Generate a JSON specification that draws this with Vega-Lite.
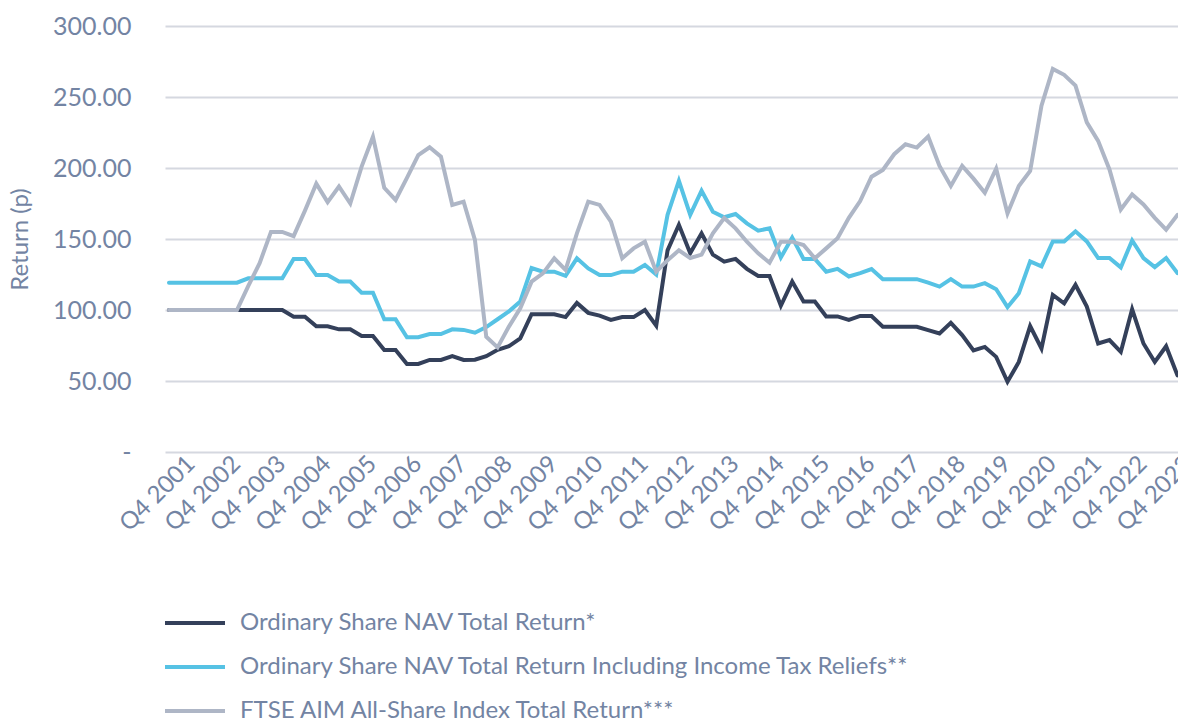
{
"$schema": "https://vega.github.io/schema/vega-lite/v6.json",
"width": 1013, "height": 426,
"autosize": {"type": "none"},
"padding": {"left": 165, "top": 26, "right": 0, "bottom": 270},
"background": "white",
"config": {"view": {"stroke": null}, "font": "Lato"},
"data": {"values": [
{"q":"Q4 2001","s":"Ordinary Share NAV Total Return*","v":100},
{"q":"Q1 2002","s":"Ordinary Share NAV Total Return*","v":100},
{"q":"Q2 2002","s":"Ordinary Share NAV Total Return*","v":100},
{"q":"Q3 2002","s":"Ordinary Share NAV Total Return*","v":100},
{"q":"Q4 2002","s":"Ordinary Share NAV Total Return*","v":100},
{"q":"Q1 2003","s":"Ordinary Share NAV Total Return*","v":100},
{"q":"Q2 2003","s":"Ordinary Share NAV Total Return*","v":100},
{"q":"Q3 2003","s":"Ordinary Share NAV Total Return*","v":100},
{"q":"Q4 2003","s":"Ordinary Share NAV Total Return*","v":100},
{"q":"Q1 2004","s":"Ordinary Share NAV Total Return*","v":100},
{"q":"Q2 2004","s":"Ordinary Share NAV Total Return*","v":100},
{"q":"Q3 2004","s":"Ordinary Share NAV Total Return*","v":95.3},
{"q":"Q4 2004","s":"Ordinary Share NAV Total Return*","v":95.3},
{"q":"Q1 2005","s":"Ordinary Share NAV Total Return*","v":88.5},
{"q":"Q2 2005","s":"Ordinary Share NAV Total Return*","v":88.5},
{"q":"Q3 2005","s":"Ordinary Share NAV Total Return*","v":86.4},
{"q":"Q4 2005","s":"Ordinary Share NAV Total Return*","v":86.4},
{"q":"Q1 2006","s":"Ordinary Share NAV Total Return*","v":81.7},
{"q":"Q2 2006","s":"Ordinary Share NAV Total Return*","v":81.7},
{"q":"Q3 2006","s":"Ordinary Share NAV Total Return*","v":71.8},
{"q":"Q4 2006","s":"Ordinary Share NAV Total Return*","v":71.8},
{"q":"Q1 2007","s":"Ordinary Share NAV Total Return*","v":62},
{"q":"Q2 2007","s":"Ordinary Share NAV Total Return*","v":62},
{"q":"Q3 2007","s":"Ordinary Share NAV Total Return*","v":64.8},
{"q":"Q4 2007","s":"Ordinary Share NAV Total Return*","v":64.8},
{"q":"Q1 2008","s":"Ordinary Share NAV Total Return*","v":67.6},
{"q":"Q2 2008","s":"Ordinary Share NAV Total Return*","v":64.8},
{"q":"Q3 2008","s":"Ordinary Share NAV Total Return*","v":65},
{"q":"Q4 2008","s":"Ordinary Share NAV Total Return*","v":67.5},
{"q":"Q1 2009","s":"Ordinary Share NAV Total Return*","v":72},
{"q":"Q2 2009","s":"Ordinary Share NAV Total Return*","v":74.5},
{"q":"Q3 2009","s":"Ordinary Share NAV Total Return*","v":80},
{"q":"Q4 2009","s":"Ordinary Share NAV Total Return*","v":97},
{"q":"Q1 2010","s":"Ordinary Share NAV Total Return*","v":97},
{"q":"Q2 2010","s":"Ordinary Share NAV Total Return*","v":97},
{"q":"Q3 2010","s":"Ordinary Share NAV Total Return*","v":95},
{"q":"Q4 2010","s":"Ordinary Share NAV Total Return*","v":105},
{"q":"Q1 2011","s":"Ordinary Share NAV Total Return*","v":98},
{"q":"Q2 2011","s":"Ordinary Share NAV Total Return*","v":96},
{"q":"Q3 2011","s":"Ordinary Share NAV Total Return*","v":93},
{"q":"Q4 2011","s":"Ordinary Share NAV Total Return*","v":95},
{"q":"Q1 2012","s":"Ordinary Share NAV Total Return*","v":95},
{"q":"Q2 2012","s":"Ordinary Share NAV Total Return*","v":100},
{"q":"Q3 2012","s":"Ordinary Share NAV Total Return*","v":89},
{"q":"Q4 2012","s":"Ordinary Share NAV Total Return*","v":142},
{"q":"Q1 2013","s":"Ordinary Share NAV Total Return*","v":160},
{"q":"Q2 2013","s":"Ordinary Share NAV Total Return*","v":140},
{"q":"Q3 2013","s":"Ordinary Share NAV Total Return*","v":154},
{"q":"Q4 2013","s":"Ordinary Share NAV Total Return*","v":139},
{"q":"Q1 2014","s":"Ordinary Share NAV Total Return*","v":134},
{"q":"Q2 2014","s":"Ordinary Share NAV Total Return*","v":136},
{"q":"Q3 2014","s":"Ordinary Share NAV Total Return*","v":129},
{"q":"Q4 2014","s":"Ordinary Share NAV Total Return*","v":124},
{"q":"Q1 2015","s":"Ordinary Share NAV Total Return*","v":124},
{"q":"Q2 2015","s":"Ordinary Share NAV Total Return*","v":103},
{"q":"Q3 2015","s":"Ordinary Share NAV Total Return*","v":120},
{"q":"Q4 2015","s":"Ordinary Share NAV Total Return*","v":106},
{"q":"Q1 2016","s":"Ordinary Share NAV Total Return*","v":106},
{"q":"Q2 2016","s":"Ordinary Share NAV Total Return*","v":95.5},
{"q":"Q3 2016","s":"Ordinary Share NAV Total Return*","v":95.5},
{"q":"Q4 2016","s":"Ordinary Share NAV Total Return*","v":93},
{"q":"Q1 2017","s":"Ordinary Share NAV Total Return*","v":95.8},
{"q":"Q2 2017","s":"Ordinary Share NAV Total Return*","v":95.8},
{"q":"Q3 2017","s":"Ordinary Share NAV Total Return*","v":88.2},
{"q":"Q4 2017","s":"Ordinary Share NAV Total Return*","v":88.2},
{"q":"Q1 2018","s":"Ordinary Share NAV Total Return*","v":88.2},
{"q":"Q2 2018","s":"Ordinary Share NAV Total Return*","v":88.2},
{"q":"Q3 2018","s":"Ordinary Share NAV Total Return*","v":85.8},
{"q":"Q4 2018","s":"Ordinary Share NAV Total Return*","v":83.5},
{"q":"Q1 2019","s":"Ordinary Share NAV Total Return*","v":91},
{"q":"Q2 2019","s":"Ordinary Share NAV Total Return*","v":82.3},
{"q":"Q3 2019","s":"Ordinary Share NAV Total Return*","v":71.5},
{"q":"Q4 2019","s":"Ordinary Share NAV Total Return*","v":74},
{"q":"Q1 2020","s":"Ordinary Share NAV Total Return*","v":67},
{"q":"Q2 2020","s":"Ordinary Share NAV Total Return*","v":49.5},
{"q":"Q3 2020","s":"Ordinary Share NAV Total Return*","v":63.4},
{"q":"Q4 2020","s":"Ordinary Share NAV Total Return*","v":88.7},
{"q":"Q1 2021","s":"Ordinary Share NAV Total Return*","v":72.9},
{"q":"Q2 2021","s":"Ordinary Share NAV Total Return*","v":110.6},
{"q":"Q3 2021","s":"Ordinary Share NAV Total Return*","v":104.7},
{"q":"Q4 2021","s":"Ordinary Share NAV Total Return*","v":117.7},
{"q":"Q1 2022","s":"Ordinary Share NAV Total Return*","v":102.4},
{"q":"Q2 2022","s":"Ordinary Share NAV Total Return*","v":76.4},
{"q":"Q3 2022","s":"Ordinary Share NAV Total Return*","v":78.8},
{"q":"Q4 2022","s":"Ordinary Share NAV Total Return*","v":70.5},
{"q":"Q1 2023","s":"Ordinary Share NAV Total Return*","v":100.5},
{"q":"Q2 2023","s":"Ordinary Share NAV Total Return*","v":76.4},
{"q":"Q3 2023","s":"Ordinary Share NAV Total Return*","v":63.4},
{"q":"Q4 2023","s":"Ordinary Share NAV Total Return*","v":74.5},
{"q":"Q1 2024","s":"Ordinary Share NAV Total Return*","v":54},
{"q":"Q4 2001","s":"Ordinary Share NAV Total Return Including Income Tax Reliefs**","v":119.2},
{"q":"Q1 2002","s":"Ordinary Share NAV Total Return Including Income Tax Reliefs**","v":119.2},
{"q":"Q2 2002","s":"Ordinary Share NAV Total Return Including Income Tax Reliefs**","v":119.2},
{"q":"Q3 2002","s":"Ordinary Share NAV Total Return Including Income Tax Reliefs**","v":119.2},
{"q":"Q4 2002","s":"Ordinary Share NAV Total Return Including Income Tax Reliefs**","v":119.2},
{"q":"Q1 2003","s":"Ordinary Share NAV Total Return Including Income Tax Reliefs**","v":119.2},
{"q":"Q2 2003","s":"Ordinary Share NAV Total Return Including Income Tax Reliefs**","v":119.2},
{"q":"Q3 2003","s":"Ordinary Share NAV Total Return Including Income Tax Reliefs**","v":122.3},
{"q":"Q4 2003","s":"Ordinary Share NAV Total Return Including Income Tax Reliefs**","v":122.3},
{"q":"Q1 2004","s":"Ordinary Share NAV Total Return Including Income Tax Reliefs**","v":122.3},
{"q":"Q2 2004","s":"Ordinary Share NAV Total Return Including Income Tax Reliefs**","v":122.3},
{"q":"Q3 2004","s":"Ordinary Share NAV Total Return Including Income Tax Reliefs**","v":135.9},
{"q":"Q4 2004","s":"Ordinary Share NAV Total Return Including Income Tax Reliefs**","v":135.9},
{"q":"Q1 2005","s":"Ordinary Share NAV Total Return Including Income Tax Reliefs**","v":124.6},
{"q":"Q2 2005","s":"Ordinary Share NAV Total Return Including Income Tax Reliefs**","v":124.6},
{"q":"Q3 2005","s":"Ordinary Share NAV Total Return Including Income Tax Reliefs**","v":120},
{"q":"Q4 2005","s":"Ordinary Share NAV Total Return Including Income Tax Reliefs**","v":120},
{"q":"Q1 2006","s":"Ordinary Share NAV Total Return Including Income Tax Reliefs**","v":112.2},
{"q":"Q2 2006","s":"Ordinary Share NAV Total Return Including Income Tax Reliefs**","v":112.2},
{"q":"Q3 2006","s":"Ordinary Share NAV Total Return Including Income Tax Reliefs**","v":93.4},
{"q":"Q4 2006","s":"Ordinary Share NAV Total Return Including Income Tax Reliefs**","v":93.4},
{"q":"Q1 2007","s":"Ordinary Share NAV Total Return Including Income Tax Reliefs**","v":80.8},
{"q":"Q2 2007","s":"Ordinary Share NAV Total Return Including Income Tax Reliefs**","v":80.8},
{"q":"Q3 2007","s":"Ordinary Share NAV Total Return Including Income Tax Reliefs**","v":83.1},
{"q":"Q4 2007","s":"Ordinary Share NAV Total Return Including Income Tax Reliefs**","v":83.1},
{"q":"Q1 2008","s":"Ordinary Share NAV Total Return Including Income Tax Reliefs**","v":86.4},
{"q":"Q2 2008","s":"Ordinary Share NAV Total Return Including Income Tax Reliefs**","v":86},
{"q":"Q3 2008","s":"Ordinary Share NAV Total Return Including Income Tax Reliefs**","v":84},
{"q":"Q4 2008","s":"Ordinary Share NAV Total Return Including Income Tax Reliefs**","v":88},
{"q":"Q1 2009","s":"Ordinary Share NAV Total Return Including Income Tax Reliefs**","v":93.5},
{"q":"Q2 2009","s":"Ordinary Share NAV Total Return Including Income Tax Reliefs**","v":99},
{"q":"Q3 2009","s":"Ordinary Share NAV Total Return Including Income Tax Reliefs**","v":106},
{"q":"Q4 2009","s":"Ordinary Share NAV Total Return Including Income Tax Reliefs**","v":129.5},
{"q":"Q1 2010","s":"Ordinary Share NAV Total Return Including Income Tax Reliefs**","v":127},
{"q":"Q2 2010","s":"Ordinary Share NAV Total Return Including Income Tax Reliefs**","v":127},
{"q":"Q3 2010","s":"Ordinary Share NAV Total Return Including Income Tax Reliefs**","v":124},
{"q":"Q4 2010","s":"Ordinary Share NAV Total Return Including Income Tax Reliefs**","v":136.4},
{"q":"Q1 2011","s":"Ordinary Share NAV Total Return Including Income Tax Reliefs**","v":129.3},
{"q":"Q2 2011","s":"Ordinary Share NAV Total Return Including Income Tax Reliefs**","v":124.6},
{"q":"Q3 2011","s":"Ordinary Share NAV Total Return Including Income Tax Reliefs**","v":124.6},
{"q":"Q4 2011","s":"Ordinary Share NAV Total Return Including Income Tax Reliefs**","v":127},
{"q":"Q1 2012","s":"Ordinary Share NAV Total Return Including Income Tax Reliefs**","v":127},
{"q":"Q2 2012","s":"Ordinary Share NAV Total Return Including Income Tax Reliefs**","v":131.7},
{"q":"Q3 2012","s":"Ordinary Share NAV Total Return Including Income Tax Reliefs**","v":125},
{"q":"Q4 2012","s":"Ordinary Share NAV Total Return Including Income Tax Reliefs**","v":167},
{"q":"Q1 2013","s":"Ordinary Share NAV Total Return Including Income Tax Reliefs**","v":191},
{"q":"Q2 2013","s":"Ordinary Share NAV Total Return Including Income Tax Reliefs**","v":167},
{"q":"Q3 2013","s":"Ordinary Share NAV Total Return Including Income Tax Reliefs**","v":184},
{"q":"Q4 2013","s":"Ordinary Share NAV Total Return Including Income Tax Reliefs**","v":169.2},
{"q":"Q1 2014","s":"Ordinary Share NAV Total Return Including Income Tax Reliefs**","v":165.3},
{"q":"Q2 2014","s":"Ordinary Share NAV Total Return Including Income Tax Reliefs**","v":167.6},
{"q":"Q3 2014","s":"Ordinary Share NAV Total Return Including Income Tax Reliefs**","v":161},
{"q":"Q4 2014","s":"Ordinary Share NAV Total Return Including Income Tax Reliefs**","v":155.9},
{"q":"Q1 2015","s":"Ordinary Share NAV Total Return Including Income Tax Reliefs**","v":157.5},
{"q":"Q2 2015","s":"Ordinary Share NAV Total Return Including Income Tax Reliefs**","v":137},
{"q":"Q3 2015","s":"Ordinary Share NAV Total Return Including Income Tax Reliefs**","v":151},
{"q":"Q4 2015","s":"Ordinary Share NAV Total Return Including Income Tax Reliefs**","v":136},
{"q":"Q1 2016","s":"Ordinary Share NAV Total Return Including Income Tax Reliefs**","v":136},
{"q":"Q2 2016","s":"Ordinary Share NAV Total Return Including Income Tax Reliefs**","v":127},
{"q":"Q3 2016","s":"Ordinary Share NAV Total Return Including Income Tax Reliefs**","v":129},
{"q":"Q4 2016","s":"Ordinary Share NAV Total Return Including Income Tax Reliefs**","v":123.6},
{"q":"Q1 2017","s":"Ordinary Share NAV Total Return Including Income Tax Reliefs**","v":125.9},
{"q":"Q2 2017","s":"Ordinary Share NAV Total Return Including Income Tax Reliefs**","v":128.8},
{"q":"Q3 2017","s":"Ordinary Share NAV Total Return Including Income Tax Reliefs**","v":121.7},
{"q":"Q4 2017","s":"Ordinary Share NAV Total Return Including Income Tax Reliefs**","v":121.7},
{"q":"Q1 2018","s":"Ordinary Share NAV Total Return Including Income Tax Reliefs**","v":121.7},
{"q":"Q2 2018","s":"Ordinary Share NAV Total Return Including Income Tax Reliefs**","v":121.7},
{"q":"Q3 2018","s":"Ordinary Share NAV Total Return Including Income Tax Reliefs**","v":119.3},
{"q":"Q4 2018","s":"Ordinary Share NAV Total Return Including Income Tax Reliefs**","v":116.5},
{"q":"Q1 2019","s":"Ordinary Share NAV Total Return Including Income Tax Reliefs**","v":121.7},
{"q":"Q2 2019","s":"Ordinary Share NAV Total Return Including Income Tax Reliefs**","v":116.5},
{"q":"Q3 2019","s":"Ordinary Share NAV Total Return Including Income Tax Reliefs**","v":116.5},
{"q":"Q4 2019","s":"Ordinary Share NAV Total Return Including Income Tax Reliefs**","v":118.9},
{"q":"Q1 2020","s":"Ordinary Share NAV Total Return Including Income Tax Reliefs**","v":114.6},
{"q":"Q2 2020","s":"Ordinary Share NAV Total Return Including Income Tax Reliefs**","v":102},
{"q":"Q3 2020","s":"Ordinary Share NAV Total Return Including Income Tax Reliefs**","v":111.8},
{"q":"Q4 2020","s":"Ordinary Share NAV Total Return Including Income Tax Reliefs**","v":134.2},
{"q":"Q1 2021","s":"Ordinary Share NAV Total Return Including Income Tax Reliefs**","v":130.7},
{"q":"Q2 2021","s":"Ordinary Share NAV Total Return Including Income Tax Reliefs**","v":148.3},
{"q":"Q3 2021","s":"Ordinary Share NAV Total Return Including Income Tax Reliefs**","v":148.3},
{"q":"Q4 2021","s":"Ordinary Share NAV Total Return Including Income Tax Reliefs**","v":155.4},
{"q":"Q1 2022","s":"Ordinary Share NAV Total Return Including Income Tax Reliefs**","v":148.3},
{"q":"Q2 2022","s":"Ordinary Share NAV Total Return Including Income Tax Reliefs**","v":136.6},
{"q":"Q3 2022","s":"Ordinary Share NAV Total Return Including Income Tax Reliefs**","v":136.6},
{"q":"Q4 2022","s":"Ordinary Share NAV Total Return Including Income Tax Reliefs**","v":130},
{"q":"Q1 2023","s":"Ordinary Share NAV Total Return Including Income Tax Reliefs**","v":149},
{"q":"Q2 2023","s":"Ordinary Share NAV Total Return Including Income Tax Reliefs**","v":136.6},
{"q":"Q3 2023","s":"Ordinary Share NAV Total Return Including Income Tax Reliefs**","v":130.2},
{"q":"Q4 2023","s":"Ordinary Share NAV Total Return Including Income Tax Reliefs**","v":136.6},
{"q":"Q1 2024","s":"Ordinary Share NAV Total Return Including Income Tax Reliefs**","v":126},
{"q":"Q4 2001","s":"FTSE AIM All-Share Index Total Return***","v":100},
{"q":"Q1 2002","s":"FTSE AIM All-Share Index Total Return***","v":100},
{"q":"Q2 2002","s":"FTSE AIM All-Share Index Total Return***","v":100},
{"q":"Q3 2002","s":"FTSE AIM All-Share Index Total Return***","v":100},
{"q":"Q4 2002","s":"FTSE AIM All-Share Index Total Return***","v":100},
{"q":"Q1 2003","s":"FTSE AIM All-Share Index Total Return***","v":100},
{"q":"Q2 2003","s":"FTSE AIM All-Share Index Total Return***","v":100},
{"q":"Q3 2003","s":"FTSE AIM All-Share Index Total Return***","v":117},
{"q":"Q4 2003","s":"FTSE AIM All-Share Index Total Return***","v":133},
{"q":"Q1 2004","s":"FTSE AIM All-Share Index Total Return***","v":155},
{"q":"Q2 2004","s":"FTSE AIM All-Share Index Total Return***","v":155},
{"q":"Q3 2004","s":"FTSE AIM All-Share Index Total Return***","v":152},
{"q":"Q4 2004","s":"FTSE AIM All-Share Index Total Return***","v":170},
{"q":"Q1 2005","s":"FTSE AIM All-Share Index Total Return***","v":189},
{"q":"Q2 2005","s":"FTSE AIM All-Share Index Total Return***","v":176},
{"q":"Q3 2005","s":"FTSE AIM All-Share Index Total Return***","v":187},
{"q":"Q4 2005","s":"FTSE AIM All-Share Index Total Return***","v":175},
{"q":"Q1 2006","s":"FTSE AIM All-Share Index Total Return***","v":201},
{"q":"Q2 2006","s":"FTSE AIM All-Share Index Total Return***","v":222},
{"q":"Q3 2006","s":"FTSE AIM All-Share Index Total Return***","v":186},
{"q":"Q4 2006","s":"FTSE AIM All-Share Index Total Return***","v":177.5},
{"q":"Q1 2007","s":"FTSE AIM All-Share Index Total Return***","v":193},
{"q":"Q2 2007","s":"FTSE AIM All-Share Index Total Return***","v":209},
{"q":"Q3 2007","s":"FTSE AIM All-Share Index Total Return***","v":214.6},
{"q":"Q4 2007","s":"FTSE AIM All-Share Index Total Return***","v":208},
{"q":"Q1 2008","s":"FTSE AIM All-Share Index Total Return***","v":174},
{"q":"Q2 2008","s":"FTSE AIM All-Share Index Total Return***","v":176.3},
{"q":"Q3 2008","s":"FTSE AIM All-Share Index Total Return***","v":149.3},
{"q":"Q4 2008","s":"FTSE AIM All-Share Index Total Return***","v":81.2},
{"q":"Q1 2009","s":"FTSE AIM All-Share Index Total Return***","v":73.7},
{"q":"Q2 2009","s":"FTSE AIM All-Share Index Total Return***","v":88.3},
{"q":"Q3 2009","s":"FTSE AIM All-Share Index Total Return***","v":101.2},
{"q":"Q4 2009","s":"FTSE AIM All-Share Index Total Return***","v":120},
{"q":"Q1 2010","s":"FTSE AIM All-Share Index Total Return***","v":125.8},
{"q":"Q2 2010","s":"FTSE AIM All-Share Index Total Return***","v":136.4},
{"q":"Q3 2010","s":"FTSE AIM All-Share Index Total Return***","v":128.2},
{"q":"Q4 2010","s":"FTSE AIM All-Share Index Total Return***","v":154},
{"q":"Q1 2011","s":"FTSE AIM All-Share Index Total Return***","v":176.3},
{"q":"Q2 2011","s":"FTSE AIM All-Share Index Total Return***","v":174},
{"q":"Q3 2011","s":"FTSE AIM All-Share Index Total Return***","v":162.2},
{"q":"Q4 2011","s":"FTSE AIM All-Share Index Total Return***","v":136.4},
{"q":"Q1 2012","s":"FTSE AIM All-Share Index Total Return***","v":143.4},
{"q":"Q2 2012","s":"FTSE AIM All-Share Index Total Return***","v":148.1},
{"q":"Q3 2012","s":"FTSE AIM All-Share Index Total Return***","v":127},
{"q":"Q4 2012","s":"FTSE AIM All-Share Index Total Return***","v":135},
{"q":"Q1 2013","s":"FTSE AIM All-Share Index Total Return***","v":142},
{"q":"Q2 2013","s":"FTSE AIM All-Share Index Total Return***","v":136.6},
{"q":"Q3 2013","s":"FTSE AIM All-Share Index Total Return***","v":139},
{"q":"Q4 2013","s":"FTSE AIM All-Share Index Total Return***","v":154},
{"q":"Q1 2014","s":"FTSE AIM All-Share Index Total Return***","v":164.8},
{"q":"Q2 2014","s":"FTSE AIM All-Share Index Total Return***","v":157.5},
{"q":"Q3 2014","s":"FTSE AIM All-Share Index Total Return***","v":148.1},
{"q":"Q4 2014","s":"FTSE AIM All-Share Index Total Return***","v":139.9},
{"q":"Q1 2015","s":"FTSE AIM All-Share Index Total Return***","v":133.3},
{"q":"Q2 2015","s":"FTSE AIM All-Share Index Total Return***","v":148.1},
{"q":"Q3 2015","s":"FTSE AIM All-Share Index Total Return***","v":148.1},
{"q":"Q4 2015","s":"FTSE AIM All-Share Index Total Return***","v":145.8},
{"q":"Q1 2016","s":"FTSE AIM All-Share Index Total Return***","v":136.4},
{"q":"Q2 2016","s":"FTSE AIM All-Share Index Total Return***","v":143.4},
{"q":"Q3 2016","s":"FTSE AIM All-Share Index Total Return***","v":150.5},
{"q":"Q4 2016","s":"FTSE AIM All-Share Index Total Return***","v":164.9},
{"q":"Q1 2017","s":"FTSE AIM All-Share Index Total Return***","v":176.7},
{"q":"Q2 2017","s":"FTSE AIM All-Share Index Total Return***","v":193.9},
{"q":"Q3 2017","s":"FTSE AIM All-Share Index Total Return***","v":198.6},
{"q":"Q4 2017","s":"FTSE AIM All-Share Index Total Return***","v":209.7},
{"q":"Q1 2018","s":"FTSE AIM All-Share Index Total Return***","v":216.7},
{"q":"Q2 2018","s":"FTSE AIM All-Share Index Total Return***","v":214.4},
{"q":"Q3 2018","s":"FTSE AIM All-Share Index Total Return***","v":222.2},
{"q":"Q4 2018","s":"FTSE AIM All-Share Index Total Return***","v":201.4},
{"q":"Q1 2019","s":"FTSE AIM All-Share Index Total Return***","v":187.3},
{"q":"Q2 2019","s":"FTSE AIM All-Share Index Total Return***","v":201.4},
{"q":"Q3 2019","s":"FTSE AIM All-Share Index Total Return***","v":192.5},
{"q":"Q4 2019","s":"FTSE AIM All-Share Index Total Return***","v":182.5},
{"q":"Q1 2020","s":"FTSE AIM All-Share Index Total Return***","v":199.5},
{"q":"Q2 2020","s":"FTSE AIM All-Share Index Total Return***","v":168},
{"q":"Q3 2020","s":"FTSE AIM All-Share Index Total Return***","v":187.3},
{"q":"Q4 2020","s":"FTSE AIM All-Share Index Total Return***","v":197.9},
{"q":"Q1 2021","s":"FTSE AIM All-Share Index Total Return***","v":243.9},
{"q":"Q2 2021","s":"FTSE AIM All-Share Index Total Return***","v":269.8},
{"q":"Q3 2021","s":"FTSE AIM All-Share Index Total Return***","v":265.6},
{"q":"Q4 2021","s":"FTSE AIM All-Share Index Total Return***","v":258},
{"q":"Q1 2022","s":"FTSE AIM All-Share Index Total Return***","v":232.1},
{"q":"Q2 2022","s":"FTSE AIM All-Share Index Total Return***","v":219.1},
{"q":"Q3 2022","s":"FTSE AIM All-Share Index Total Return***","v":199},
{"q":"Q4 2022","s":"FTSE AIM All-Share Index Total Return***","v":170.8},
{"q":"Q1 2023","s":"FTSE AIM All-Share Index Total Return***","v":181.4},
{"q":"Q2 2023","s":"FTSE AIM All-Share Index Total Return***","v":174.3},
{"q":"Q3 2023","s":"FTSE AIM All-Share Index Total Return***","v":164.9},
{"q":"Q4 2023","s":"FTSE AIM All-Share Index Total Return***","v":156.6},
{"q":"Q1 2024","s":"FTSE AIM All-Share Index Total Return***","v":167}
]},
"mark": {"type": "line", "strokeWidth": 4, "strokeJoin": "miter", "strokeCap": "round"},
"encoding": {
"x": {"field": "q", "type": "ordinal", "sort": null,
 "scale": {"type": "point", "padding": 0.2, "align": 0.88},
 "axis": {"title": null, "domain": false, "ticks": false, "grid": false,
  "values": ["Q4 2001","Q4 2002","Q4 2003","Q4 2004","Q4 2005","Q4 2006","Q4 2007","Q4 2008","Q4 2009","Q4 2010","Q4 2011","Q4 2012","Q4 2013","Q4 2014","Q4 2015","Q4 2016","Q4 2017","Q4 2018","Q4 2019","Q4 2020","Q4 2021","Q4 2022","Q4 2023"],
  "labelAngle": -45, "labelAlign": "right", "labelBaseline": "middle", "labelFontSize": 24, "labelColor": "#7384A3", "labelPadding": 8, "labelOffset": 22, "labelOverlap": false, "labelBound": false, "labelFlush": false}},
"y": {"field": "v", "type": "quantitative",
 "scale": {"domain": [0, 300], "nice": false, "zero": true},
 "axis": {"values": [0,50,100,150,200,250,300], "labelExpr": "datum.value == 0 ? '-' : format(datum.value, ',.2f')",
  "title": "Return (p)", "titleFontSize": 24, "titleFontWeight": "normal", "titleColor": "#7384A3", "titlePadding": 20,
  "grid": true, "gridColor": "#D5D8E0", "gridWidth": 2, "domain": false, "ticks": false,
  "labelFontSize": 25, "labelColor": "#7384A3", "labelPadding": 34}},
"color": {"field": "s", "type": "nominal",
 "scale": {"domain": ["Ordinary Share NAV Total Return*","Ordinary Share NAV Total Return Including Income Tax Reliefs**","FTSE AIM All-Share Index Total Return***"], "range": ["#34405A","#56C2E4","#AEB6C6"]},
 "legend": {"orient": "none", "legendX": -2, "legendY": 565, "direction": "vertical", "title": null,
  "symbolType": "stroke", "symbolSize": 3600, "symbolStrokeWidth": 4, "labelFontSize": 24, "labelColor": "#7384A3", "labelOffset": 13, "rowPadding": 0, "labelLimit": 900}}
}
}
